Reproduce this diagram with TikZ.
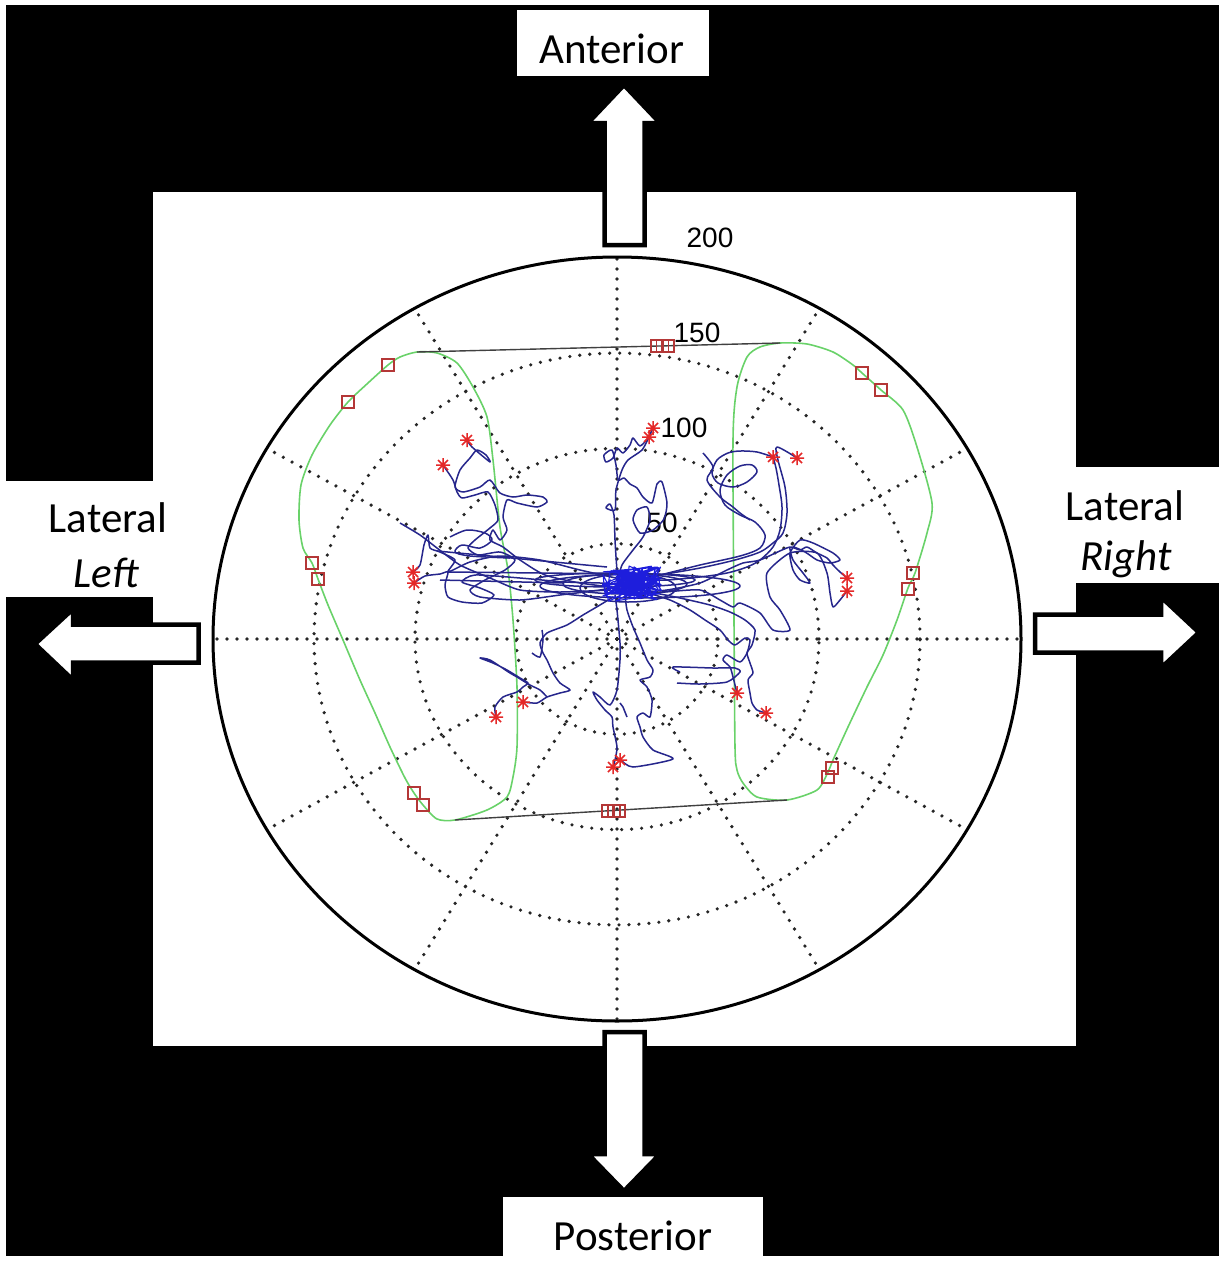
\documentclass[tikz,border=0pt]{standalone}
\usepackage{fontspec}
\setmainfont{Carlito}
\newfontfamily\plotfont{Liberation Sans}
\definecolor{navy}{RGB}{38,38,140}
\definecolor{clblue}{RGB}{30,30,220}
\definecolor{footgreen}{RGB}{105,210,105}
\definecolor{sqred}{RGB}{180,55,55}
\definecolor{astred}{RGB}{228,40,40}
\newcommand\sqm[2]{\draw[sqstyle] (#1,#2) ++(-6,-6) rectangle ++(12,12);}
\newcommand\astm[2]{\draw[aststyle] (#1,#2) ++(-7,0) -- ++(14,0) (#1,#2) ++(0,-7) -- ++(0,14) (#1,#2) ++(-5,-5) -- ++(10,10) (#1,#2) ++(-5,5) -- ++(10,-10);}
\begin{document}
\begin{tikzpicture}[x=1pt,y=-1pt,
  lbl/.style={font=\fontsize{43}{50}\selectfont, inner sep=0pt},
  rl/.style={font=\plotfont\fontsize{28}{32}\selectfont, inner sep=0pt},
  dotl/.style={line width=3.6pt, dash pattern=on 0pt off 10pt, line cap=round, black!85},
  bigarrow/.style={fill=white, draw=black, line width=4.5pt, line join=miter},
  traj/.style={navy, line width=1.5pt, line join=round},
  foot/.style={footgreen, line width=1.6pt},
  conn/.style={black!75, line width=1.4pt},
  sqstyle/.style={sqred, line width=1.4pt},
  aststyle/.style={astred, line width=1.5pt}]
\useasboundingbox (0,0) rectangle (1224,1261);
\fill[white] (0,0) rectangle (1224,1261);
\fill[black] (6,5) rectangle (1219,1256);
% plot area and label boxes
\fill[white] (153,192) rectangle (1076,1046);
\fill[white] (517,10) rectangle (709,76);
\fill[white] (0,481) rectangle (160,597);
\fill[white] (1070,467) rectangle (1224,583);
\fill[white] (503,1197) rectangle (763,1261);
% labels
\node[lbl, anchor=base] (ant) at (612,63) {Anterior};
\node[lbl, anchor=base] (latl) at (108,532) {Lateral};
\node[lbl, anchor=base] (left) at (106,587) {\itshape Left};
\node[lbl, anchor=base] (latr) at (1125,520) {Lateral};
\node[lbl, anchor=base] (right) at (1126,570) {\itshape Right};
\node[lbl, anchor=base] (post) at (633,1250) {Posterior};
% block arrows
\draw[bigarrow] (604.5,245) -- (604.5,123) -- (588,123) -- (624,85) -- (660,123) -- (644.5,123) -- (644.5,245) -- cycle;
\draw[bigarrow] (604.5,1032) -- (604.5,1154) -- (588,1154) -- (624,1191) -- (660,1154) -- (644.5,1154) -- (644.5,1032) -- cycle;
\draw[bigarrow] (198.5,624.5) -- (73,624.5) -- (73,609) -- (35,644) -- (73,680) -- (73,662.5) -- (198.5,662.5) -- cycle;
\draw[bigarrow] (1035,614.5) -- (1161,614.5) -- (1161,597) -- (1199,632.5) -- (1161,668) -- (1161,652.5) -- (1035,652.5) -- cycle;
% polar grid
\coordinate (o) at (617,639);
\foreach \r in {1,2,3} \draw[dotl] (o) ellipse [x radius={101*\r pt}, y radius={95.3*\r pt}];
\foreach \a in {0,30,...,330} \draw[dotl] (o) -- ({617+404*cos(\a)},{639-381*sin(\a)});
\draw[black, line width=3pt] (o) ellipse [x radius=404pt, y radius=382pt];
\node[rl] (r200) at (710,238) {200};
\node[rl] (r150) at (697,333) {150};
\node[rl] (r100) at (684,428) {100};
\node[rl] (r50) at (662,523) {50};
% foot outlines
\draw[foot] plot[smooth cycle, tension=0.45] coordinates {(417,352) (400,357) (388,365) (368,383) (348,402) (330,425) (312,455) (301,485) (299,520) (303,548) (312,563) (318,579) (328,605) (343,640) (360,680) (375,713) (390,747) (405,778) (414,793) (423,805) (437,819) (455,820) (487,810) (507,797) (513,777) (517,747) (517,687) (513,620) (508,570) (500,527) (493,460) (487,417) (473,387) (457,363) (437,353)};
\draw[foot] plot[smooth cycle, tension=0.45] coordinates {(760,347) (780,343) (807,344) (833,352) (853,365) (862,373) (881,390) (903,410) (917,447) (932,503) (927,533) (915,573) (908,588) (897,620) (883,655) (867,687) (848,727) (833,760) (828,772) (817,790) (787,800) (757,797) (743,783) (737,770) (735,747) (734,620) (733,440) (737,387) (747,357)};
\coordinate (ltop) at (417,352); \coordinate (rtop) at (780,343);
\coordinate (lbot) at (455,820); \coordinate (rbot) at (787,800);
\draw[conn] (ltop) -- (rtop);
\draw[conn] (lbot) -- (rbot);
% trajectories
\draw[traj] plot[smooth, tension=0.4] coordinates {(467,440) (472,447) (490,462) (486,455) (477,450) (470,458) (460,470) (455,487) (463,492) (480,487) (490,480) (500,493) (513,497) (527,495) (543,497) (547,502) (537,507) (517,503) (507,500) (503,517) (507,530) (500,540) (493,530) (490,540) (503,547) (520,560) (545,575) (580,583) (620,588)};
\draw[traj] plot[smooth, tension=0.4] coordinates {(443,465) (453,480) (457,492) (462,498) (475,495) (488,492) (495,505) (498,520) (490,528) (475,540) (468,548) (478,555) (500,552) (515,560) (505,570) (485,580) (470,590) (480,597) (520,600) (560,595) (600,590) (625,585)};
\draw[traj] plot[smooth, tension=0.4] coordinates {(413,572) (420,565) (424,545) (428,535) (430,548) (440,552) (455,560) (448,572) (470,562) (500,556) (540,560) (580,570) (625,580)};
\draw[traj] plot[smooth, tension=0.4] coordinates {(414,583) (425,576) (440,574) (448,572) (445,585) (448,597) (462,602) (482,603) (494,595) (480,588) (462,582) (475,575) (520,578) (565,582) (600,583) (630,585)};
\draw[traj] plot[smooth, tension=0.4] coordinates {(400,523) (420,535) (437,548) (460,565) (490,578) (520,590) (560,592) (610,590)};
\draw[traj] plot[smooth, tension=0.5] coordinates {(450,537) (467,530) (485,533) (492,540) (480,548) (462,545) (455,552) (470,556) (510,558)};
\draw[traj] (437,551) -- (607,567) (448,572) -- (632,574) (440,580) -- (563,583);
\draw[traj] plot[smooth, tension=0.4] coordinates {(653,428) (648,438) (640,446) (633,438) (630,445) (623,453) (617,448) (613,458) (606,462) (604,455) (612,450) (616,465) (618,480) (624,478) (630,484) (637,488) (643,497) (652,503) (657,484) (662,482) (667,503) (664,519) (653,530) (640,533) (633,520) (637,510) (647,507) (650,520) (643,537) (633,550) (622,565) (618,580)};
\draw[traj] plot[smooth, tension=0.4] coordinates {(649,437) (642,450) (628,460) (622,470) (616,490) (615,510) (606,508) (610,504) (614,515) (615,540) (617,570) (620,585)};
\draw[traj] plot[smooth, tension=0.5] coordinates {(773,457) (776,468) (779,485) (782,507) (780,530) (773,547) (760,560) (747,567) (727,573) (700,577) (667,580) (640,580)};
\draw[traj] plot[smooth, tension=0.5] coordinates {(773,457) (757,452) (740,451) (728,453) (717,460) (712,473) (718,483) (733,487) (747,482) (757,472) (752,465) (740,466) (727,475) (720,490) (725,505) (740,515) (755,522) (765,535) (760,548) (740,556) (700,565) (660,575) (635,580)};
\draw[traj] plot[smooth, tension=0.5] coordinates {(797,458) (777,447) (778,460) (785,487) (787,513) (783,533) (773,543) (760,552) (735,560) (700,568) (660,575) (632,580)};
\draw[traj] plot[smooth, tension=0.5] coordinates {(703,453) (713,467) (707,480) (720,497) (733,507) (740,513) (750,520)};
\draw[traj] plot[smooth, tension=0.4] coordinates {(847,578) (840,572) (833,565) (827,558) (817,553) (807,547) (800,550) (790,547) (793,560) (803,573) (810,583) (800,580) (793,570) (790,553) (800,540) (813,543) (833,553) (840,560) (830,563) (817,560) (805,552) (790,547) (760,560) (743,563) (727,570) (700,583) (667,590) (633,593)};
\draw[traj] plot[smooth, tension=0.4] coordinates {(847,591) (840,600) (833,607) (830,593) (827,573) (817,553) (790,553) (767,573) (770,597) (780,610) (790,630) (773,630) (760,613) (740,603) (733,607) (720,600) (700,590) (665,592) (635,595)};
\draw[traj] plot[smooth, tension=0.4] coordinates {(737,693) (733,677) (730,667) (723,660) (727,655) (740,662) (747,653) (750,640) (745,638) (735,645) (728,640) (720,630) (705,620) (690,610) (670,600) (645,592)};
\draw[traj] plot[smooth, tension=0.4] coordinates {(766,713) (757,710) (752,703) (750,693) (748,680) (753,673) (750,663) (747,653) (752,645) (755,630) (745,620) (730,612) (710,605) (680,598) (650,592)};
\draw[traj] plot[smooth, tension=0.4] coordinates {(677,683) (700,684) (727,682) (740,672) (735,668) (713,668) (673,667) (680,672)};
\draw[traj] plot[smooth, tension=0.4] coordinates {(621,760) (633,767) (673,759) (653,750) (643,737) (640,727) (637,717) (643,713) (650,717) (652,700) (647,687) (640,680) (650,677) (653,670) (647,660) (640,643) (633,627) (627,610) (625,595)};
\draw[traj] plot[smooth, tension=0.4] coordinates {(613,768) (615,760) (617,747) (613,727) (612,717) (605,710) (597,700) (593,692) (600,697) (610,705) (617,690) (620,660) (620,643) (617,610) (615,595)};
\draw[traj] (620,703) -- (623,707) -- (627,717);
\draw[traj] plot[smooth, tension=0.4] coordinates {(496,717) (495,707) (503,697) (517,692) (523,687) (528,683) (520,678) (507,670) (493,663) (480,658) (490,660) (510,673) (517,677) (530,685) (540,690) (547,697)};
\draw[traj] plot[smooth, tension=0.4] coordinates {(523,702) (537,703) (547,697) (560,693) (570,690) (560,683) (553,673) (547,660) (543,653) (540,643) (547,633) (567,625) (583,615) (600,605) (613,597)};
\draw[traj] plot[smooth, tension=0.4] coordinates {(532,653) (540,657) (543,640) (542,630)};
% long loops round the centre
\draw[traj] (625,584) ellipse [x radius=62pt, y radius=10pt];
\draw[traj] (628,588) ellipse [x radius=48pt, y radius=14pt];
\draw[traj] (615,580) ellipse [x radius=80pt, y radius=7pt];
\draw[traj] (640,586) ellipse [x radius=100pt, y radius=12pt];
% dense centre cluster
\pgfmathsetseed{11}
\draw[clblue, line width=1.1pt, line join=round] plot[samples=110, domain=1:110, variable=\t] ({632+30*rand},{584+18*rand});
\pgfmathsetseed{5}
\draw[clblue, line width=1.1pt, line join=round] plot[smooth, tension=0.5, samples=60, domain=1:60, variable=\t] ({630+18*rand},{584+10*rand});
% markers
\sqm{657}{346} \sqm{662.5}{346} \sqm{668}{346}
\sqm{608}{811} \sqm{614}{811} \sqm{619}{811}
\sqm{388}{365} \sqm{348}{402} \sqm{312}{563} \sqm{318}{579} \sqm{414}{793} \sqm{423}{805}
\sqm{862}{373} \sqm{881}{390} \sqm{913}{573} \sqm{908}{589} \sqm{832}{768} \sqm{828}{777}
\astm{467}{440} \astm{443}{465} \astm{413}{572} \astm{414}{583}
\astm{653}{428} \astm{649}{437} \astm{773}{457} \astm{797}{458}
\astm{847}{578} \astm{847}{591} \astm{496}{717} \astm{523}{702}
\astm{613}{767} \astm{620}{760} \astm{737}{693} \astm{766}{713}
\end{tikzpicture}
\end{document}
